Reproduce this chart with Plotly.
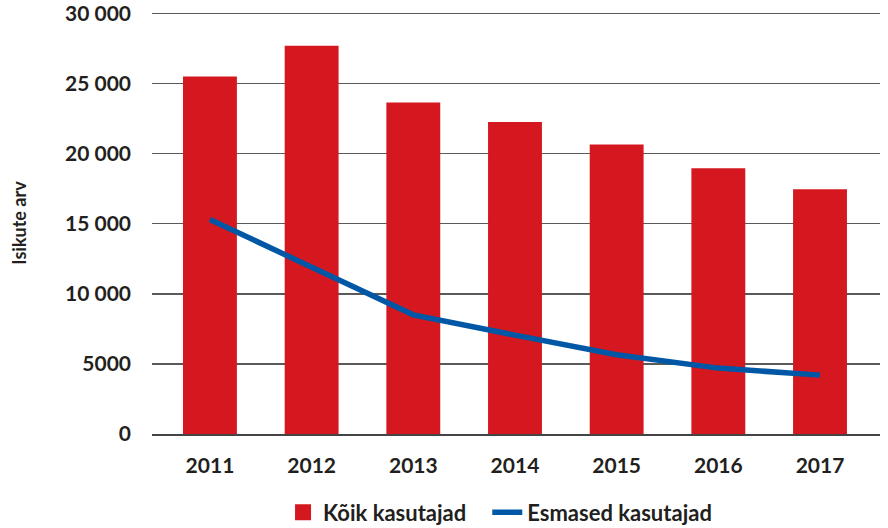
import plotly.graph_objects as go

years = ["2011", "2012", "2013", "2014", "2015", "2016", "2017"]
koik = [25500, 27700, 23650, 22250, 20650, 18950, 17450]
esmased = [15300, 11900, 8500, 7050, 5650, 4700, 4200]
tick_vals = [0, 5000, 10000, 15000, 20000, 25000, 30000]
tick_text = ["0", "5000", "10 000", "15 000", "20 000", "25 000", "30 000"]

RED = "#d51820"
BLUE = "#0057a6"
TXT = "#231f20"
FONT = "Lato"

fig = go.Figure()
fig.add_trace(go.Bar(x=years, y=koik, marker=dict(color=RED, line=dict(width=0)),
                     width=0.53, name="Kõik kasutajad", showlegend=False))
fig.add_trace(go.Scatter(x=[years[0]], y=[None], mode="markers",
                         marker=dict(symbol="square", size=19, color=RED),
                         name="Kõik kasutajad\u00a0\u00a0\u00a0", showlegend=True))
fig.add_trace(go.Scatter(x=years, y=esmased, mode="lines",
                         line=dict(color=BLUE, width=5.5), name="Esmased kasutajad"))

fig.update_layout(
    width=888, height=528,
    margin=dict(l=152, r=8, t=12, b=94, autoexpand=False),
    paper_bgcolor="white", plot_bgcolor="white",
    font=dict(family=FONT, size=17, color=TXT),
    showlegend=True,
    hovermode=False,
    legend=dict(orientation="h", xref="paper", yref="paper",
                x=0.18, y=-0.136, xanchor="left", yanchor="top",
                font=dict(family=FONT, size=22, color=TXT, weight="bold"),
                itemwidth=30, tracegroupgap=0),
    xaxis=dict(type="category", range=[-0.57, 6.59], showgrid=False,
               showline=True, linecolor="#444444", linewidth=2,
               ticks="", tickfont=dict(family=FONT, size=21, color=TXT, weight="bold"),
               ticklabelstandoff=12, fixedrange=True),
    yaxis=dict(range=[0, 30100], tickvals=tick_vals, ticktext=tick_text,
               showgrid=True, gridcolor="#5a5a5a", gridwidth=1.5,
               zeroline=False, showline=False, ticks="", fixedrange=True,
               ticklabeloverflow="allow",
               tickfont=dict(family=FONT, size=21, color=TXT, weight="bold"),
               ticklabelstandoff=20,
               title=dict(text="Isikute arv", standoff=33,
                          font=dict(family=FONT, size=18, color=TXT, weight="bold"))),
)

fig.write_html("out.html", config={"displayModeBar": False, "staticPlot": True},
               post_script="document.body.style.margin='0';")
